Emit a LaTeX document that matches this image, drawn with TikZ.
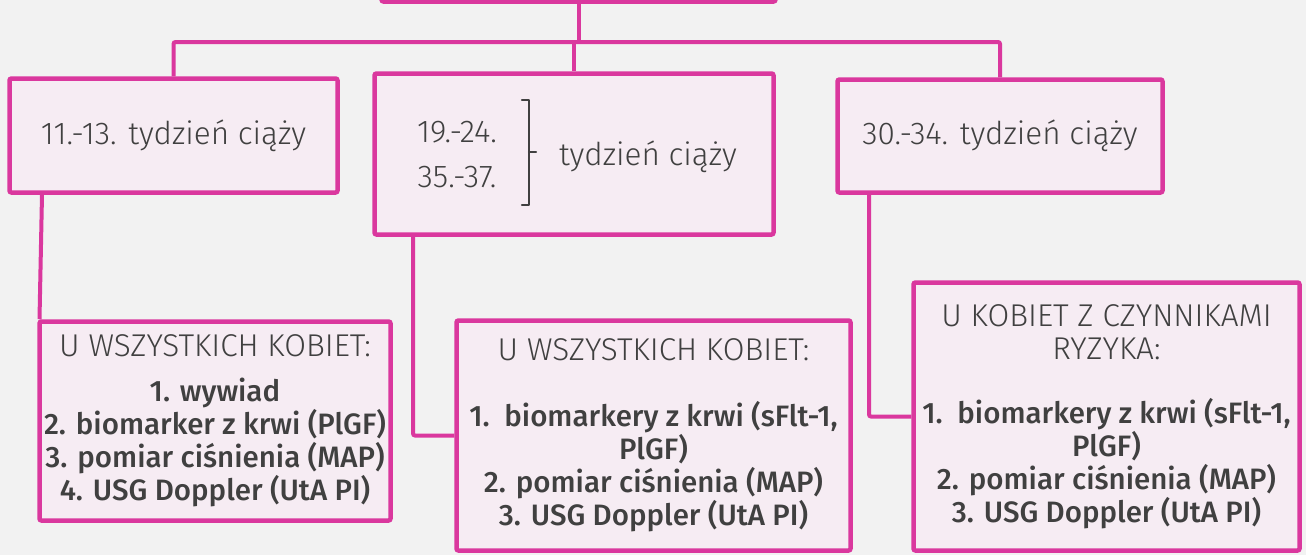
\documentclass[tikz,border=0pt]{standalone}
\usepackage{fontspec}
\setmainfont{Fira Sans}
\newfontfamily\lightface{Fira Sans Light}
\newfontfamily\medface{Fira Sans Medium}
\definecolor{pinkline}{RGB}{218,56,158}
\definecolor{boxfill}{RGB}{246,236,243}
\definecolor{pagebg}{RGB}{242,242,242}
\definecolor{txt}{RGB}{64,64,64}
% one line of an examination list
\newcommand\li[1]{{\medface\fontsize{29.5}{33}\selectfont #1}}
\begin{document}
\begin{tikzpicture}[x=1pt,y=-1pt,
  box/.style={draw=pinkline, line width=4.5pt, fill=boxfill, rounded corners=2pt,
    inner sep=0pt, text=txt, align=center,
    font=\lightface\fontsize{31.5}{33}\selectfont},
  link/.style={draw=pinkline, line width=4pt, rounded corners=2pt},
  wk/.style={inner sep=0pt, text=txt, font=\lightface\fontsize{31.5}{33}\selectfont},
  brk/.style={draw=txt, line width=2.2pt, line cap=round, line join=round}]

% page background and frame
\fill[pagebg] (0,0) rectangle (1306,555);
\useasboundingbox (0,0) rectangle (1306,555);
\clip (0,0) rectangle (1306,555);

% top box (only its lower edge shows)
\node[box, minimum width=394pt, minimum height=60pt] (top) at (578.5,-28.5) {};

% second row: pregnancy weeks
\node[box, minimum width=328pt, minimum height=114pt] (box1) at (173.5,135.5)
  {11.-13. tydzień ciąży};
\node[box, minimum width=399pt, minimum height=161pt] (box2) at (574,154) {};
\node[box, minimum width=325pt, minimum height=113pt] (box3) at (1000,136)
  {30.-34. tydzień ciąży};

% text inside the middle box
\node[wk, anchor=base] (n1) at (457,142) {19.-24.};
\node[wk, anchor=base] (n2) at (457,187) {35.-37.};
\node[wk, anchor=base] (wk) at (648,165) {tydzień ciąży};
\draw[brk] (522,100) -- (529,100) -- (529,205) -- (522,205);
\draw[brk] (529,152) -- (536,152);

% third row: examinations
\node[box, minimum width=351pt, minimum height=199pt] (box4) at (215,421)
  {U WSZYSTKICH KOBIET:\\[12pt]\li{1. wywiad}\\\li{2. biomarker z krwi (PlGF)}\\
   \li{3. pomiar ciśnienia (MAP)}\\\li{4. USG Doppler (UtA PI)}};
\node[box, minimum width=394pt, minimum height=230pt] (box5) at (653.5,435.5)
  {U WSZYSTKICH KOBIET:\\[33pt]\li{1.\ \ biomarkery z krwi (sFlt-1,}\\\li{PlGF)}\\
   \li{2. pomiar ciśnienia (MAP)}\\\li{3. USG Doppler (UtA PI)}};
\node[box, minimum width=386pt, minimum height=268pt] (box6) at (1106.5,416.5)
  {U KOBIET Z CZYNNIKAMI\\RYZYKA:\\[31pt]\li{1.\ \ biomarkery z krwi (sFlt-1,}\\\li{PlGF)}\\
   \li{2. pomiar ciśnienia (MAP)}\\\li{3. USG Doppler (UtA PI)}};

% connector positions
\coordinate (busL) at (173.5,42);
\coordinate (busR) at (1000,42);
\coordinate (d1a) at (42,0);
\coordinate (d1b) at (39.5,0);
\coordinate (d2) at (413,0);
\coordinate (d3) at (869,0);

% connectors
\draw[link] (top.south) -- (top.south |- busL);
\draw[link] (box1.north) |- (busR) -- (box3.north);
\draw[link] (box2.north) -- (box2.north |- busL);
\draw[link] (box1.south -| d1a) -- (box4.north -| d1b);
\draw[link] (box2.south -| d2) |- (box5.west);
\draw[link] (box3.south -| d3) |- (box6.west);
\end{tikzpicture}
\end{document}
